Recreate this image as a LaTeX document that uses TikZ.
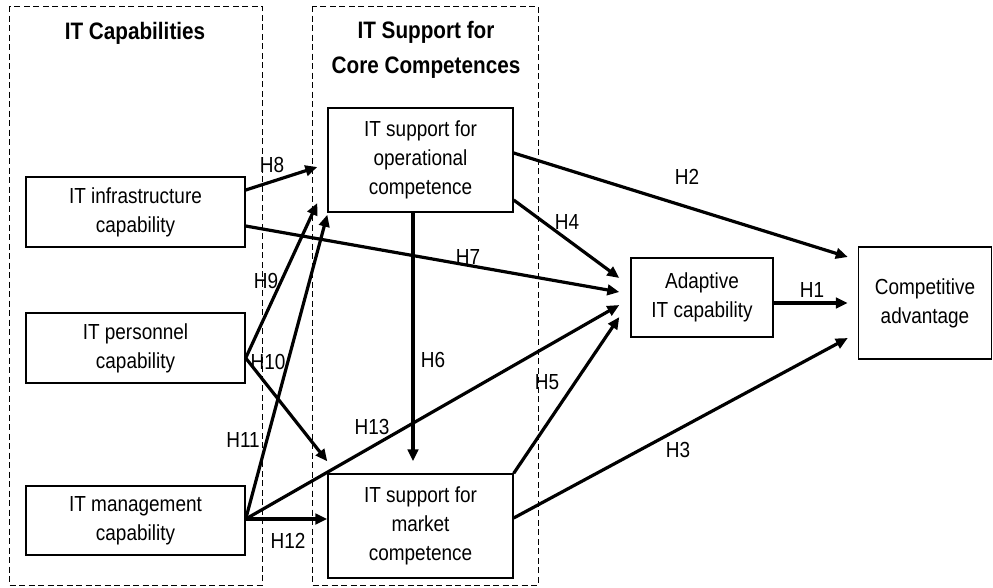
\documentclass[tikz,border=0pt]{standalone}
\usepackage{fontspec}
\setmainfont[FakeStretch=0.87]{Liberation Sans}
\usepackage{tikz}
\usetikzlibrary{arrows.meta, positioning, calc}

\begin{document}
\begin{tikzpicture}[x=1pt, y=-1pt,
    construct/.style={rectangle, draw=black, line width=1.4pt, fill=white, inner sep=0pt, align=center, font=\fontsize{21.8}{29}\selectfont},
    group/.style={draw=black, line width=0.9pt, dash pattern=on 6pt off 3.5pt},
    grouptitle/.style={align=center, font=\fontsize{23.8}{35}\selectfont\bfseries},
    hyp/.style={font=\fontsize{21.8}{24}\selectfont, inner sep=0pt},
    arrow/.style={-{Triangle[length=12pt,width=10.5pt]}, line width=3.2pt}
]
\useasboundingbox (0,0) rectangle (993,587);

% Dashed groups
\draw[group] (9,6) rectangle (262,585);
\draw[group] (312,6) rectangle (538,585);
\node[grouptitle] (captitle) at (135,33) {IT Capabilities};
\node[grouptitle] (suptitle) at (426,50) {IT Support for\\Core Competences};

% IT capabilities
\node[construct, minimum width=219pt, minimum height=70pt] (infra) at (135.5,212) {IT infrastructure\\capability};
\node[construct, minimum width=219pt, minimum height=70pt] (personnel) at (135.5,348) {IT personnel\\capability};
\node[construct, minimum width=219pt, minimum height=69pt] (mgmt) at (135.5,520.5) {IT management\\capability};

% IT support for core competences
\node[construct, minimum width=185pt, minimum height=104pt] (opsupport) at (420.5,160) {IT support for\\operational\\competence};
\node[construct, minimum width=185pt, minimum height=104pt] (mktsupport) at (420.5,526) {IT support for\\market\\competence};

% Outcomes
\node[construct, minimum width=142pt, minimum height=79pt] (adaptive) at (702,297.5) {Adaptive\\IT capability};
\node[construct, minimum width=133pt, minimum height=112pt] (compadv) at (925,303) {Competitive\\advantage};

% Hypotheses
\draw[arrow] ([yshift=22]infra.east) -- ([xshift=-10,yshift=-7]opsupport.west);
\draw[arrow] ([yshift=-14]infra.east) -- ([xshift=-11,yshift=5.5]adaptive.west);
\draw[arrow] ([yshift=-40]opsupport.east) -- ([xshift=-11,yshift=19.5]adaptive.west);
\draw[arrow] ([yshift=7]opsupport.east) -- ([xshift=-10,yshift=46]compadv.west);
\draw[arrow] ([xshift=-7.5]opsupport.south) -- ([xshift=-7.5,yshift=12]mktsupport.north);
\draw[arrow] ([yshift=-10]personnel.east) -- ([xshift=-10,yshift=-43]opsupport.west);
\draw[arrow] ([yshift=-10]personnel.east) -- ([yshift=12]mktsupport.north west);
\draw[arrow] ([yshift=1.5]mgmt.east) -- ([yshift=-2]opsupport.south west);
\draw[arrow, line width=3.8pt] ([yshift=1.5]mgmt.east) -- ([yshift=7]mktsupport.west);
\draw[arrow] ([yshift=1.5]mgmt.east) -- ([xshift=-11,yshift=-7.5]adaptive.west);
\draw[arrow] (mktsupport.north east) -- ([xshift=-11,yshift=-19.5]adaptive.west);
\draw[arrow] ([yshift=-5.5]adaptive.east) -- ([xshift=-10]compadv.west);
\draw[arrow] ([yshift=8]mktsupport.east) -- ([xshift=-10,yshift=-35]compadv.west);

% Labels
\node[hyp] (h1) at (812,290) {H1};
\node[hyp] (h2) at (687,177) {H2};
\node[hyp] (h3) at (678,450) {H3};
\node[hyp] (h4) at (567,222) {H4};
\node[hyp] (h5) at (547,382) {H5};
\node[hyp] (h6) at (433,360) {H6};
\node[hyp] (h7) at (468,257) {H7};
\node[hyp] (h8) at (272,165) {H8};
\node[hyp] (h9) at (266,281) {H9};
\node[hyp] (h10) at (268,362) {H10};
\node[hyp] (h11) at (243,440) {H11};
\node[hyp] (h12) at (288,541) {H12};
\node[hyp] (h13) at (372,427) {H13};
\end{tikzpicture}
\end{document}
